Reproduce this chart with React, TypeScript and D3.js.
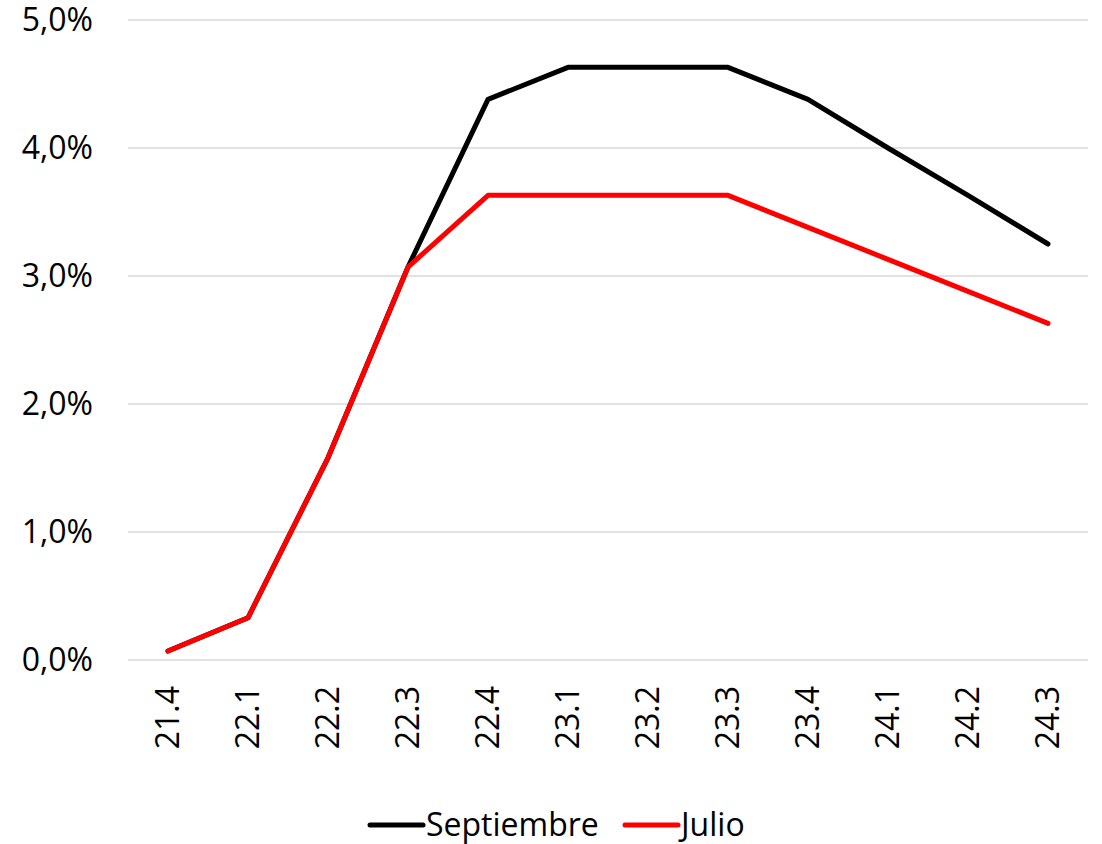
import React from "react";
import * as d3 from "d3";

const categories = ["21.4", "22.1", "22.2", "22.3", "22.4", "23.1", "23.2", "23.3", "23.4", "24.1", "24.2", "24.3"];
const septiembre = [0.07, 0.33, 1.58, 3.07, 4.38, 4.63, 4.63, 4.63, 4.38, 4.0, 3.63, 3.25];
const julio = [0.07, 0.33, 1.58, 3.07, 3.63, 3.63, 3.63, 3.63, 3.38, 3.13, 2.88, 2.63];
const yTicks = [0, 1, 2, 3, 4, 5];
const seriesNames = ["Septiembre", "Julio"];
const seriesColors = ["#000000", "#FF0000"];

const W = 1102;
const H = 844;
const left = 128;
const right = 1088;
const top = 20;
const bottom = 660;
const font = "'Open Sans', 'Noto Sans', sans-serif";

export default function App() {
  const x = d3.scalePoint<string>().domain(categories).range([left, right]).padding(0.5);
  const y = d3.scaleLinear().domain([0, 5]).range([bottom, top]);
  const line = d3
    .line<number>()
    .x((_, i) => x(categories[i]) as number)
    .y((d) => y(d));
  const series = [septiembre, julio];
  const fmt = (v: number) => v.toFixed(1).replace(".", ",") + "%";

  return (
    <svg width={W} height={H} style={{ position: "absolute", left: 0, top: 0, background: "#fff" }}>
      {yTicks.map((t) => (
        <g key={t}>
          <line x1={left} x2={right} y1={y(t)} y2={y(t)} stroke="#d9d9d9" strokeWidth={1.5} />
          <text x={93} y={y(t)} dy="0.35em" textAnchor="end" fontFamily={font} fontSize={32} fill="#000">
            {fmt(t)}
          </text>
        </g>
      ))}
      {categories.map((c) => (
        <text
          key={c}
          transform={`translate(${(x(c) as number) + 11},${686}) rotate(-90)`}
          textAnchor="end"
          fontFamily={font}
          fontSize={32}
          fill="#000"
        >
          {c}
        </text>
      ))}
      {series.map((s, i) => (
        <path
          key={i}
          d={line(s) as string}
          fill="none"
          stroke={seriesColors[i]}
          strokeWidth={5}
          strokeLinejoin="round"
          strokeLinecap="round"
        />
      ))}
      {seriesNames.map((n, i) => {
        const lx = i === 0 ? 370 : 625;
        return (
          <g key={n}>
            <line x1={lx} x2={lx + 53} y1={825} y2={825} stroke={seriesColors[i]} strokeWidth={5} strokeLinecap="round" />
            <text x={lx + 56} y={825} dy="0.35em" fontFamily={font} fontSize={32} fill="#000">
              {n}
            </text>
          </g>
        );
      })}
    </svg>
  );
}
